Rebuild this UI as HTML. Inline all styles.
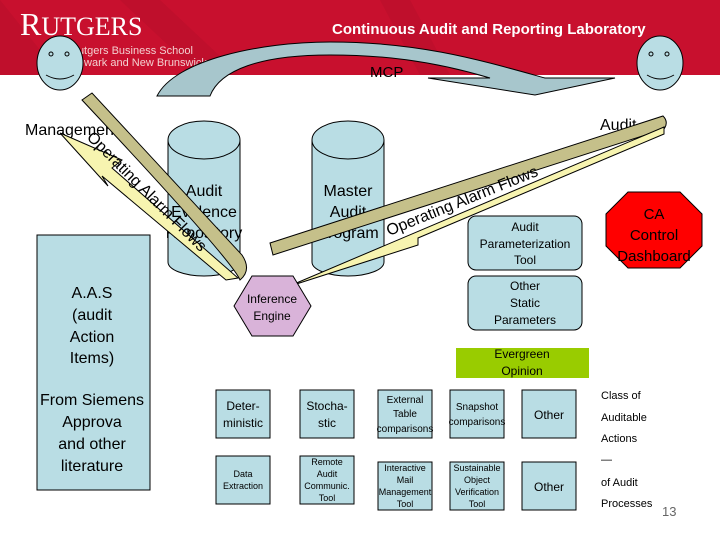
<!DOCTYPE html>
<html><head><meta charset="utf-8"><style>
body{margin:0;width:720px;height:540px;overflow:hidden;background:#fff;font-family:"Liberation Sans",sans-serif}
</style></head><body>
<svg width="720" height="540" viewBox="0 0 720 540" xmlns="http://www.w3.org/2000/svg" font-family="Liberation Sans, sans-serif">
<rect x="0" y="0" width="720" height="75" fill="#c8102e"/>
<path d="M0 0 L60 75 L0 75Z M120 0 L200 75 L240 75 L160 0Z M380 0 L420 75 L450 75 L410 0Z" fill="#b50d29" opacity="0.5"/>
<text x="20" y="35" font-family="Liberation Serif, serif" font-size="32" fill="#fff">R<tspan font-size="26">UTGERS</tspan></text>
<text x="70" y="54" font-size="11" fill="#f3d0d0">Rutgers Business School</text>
<text x="70" y="66" font-size="11" fill="#f3d0d0">Newark and New Brunswick</text>
<text x="332" y="34" font-size="15" font-weight="bold" fill="#fff">Continuous Audit and Reporting Laboratory</text>
<!-- MCP arrow -->
<path d="M157 96 C175 60 260 42 330 42 C420 42 480 60 545 78 L615 78 L535 95 L428 78 L490 78 C430 60 380 55 330 55 C260 55 220 70 210 96 Z" fill="#a7c6cc" stroke="#000" stroke-width="1"/>
<text x="370" y="77" font-size="15">MCP</text>
<!-- smileys -->
<g stroke="#000" fill="#b9dde4"><ellipse cx="60" cy="63" rx="23" ry="27"/><ellipse cx="660" cy="63" rx="23" ry="27"/></g>
<g stroke="#000" fill="none"><ellipse cx="51" cy="54" rx="2" ry="2"/><ellipse cx="67" cy="54" rx="2" ry="2"/><path d="M46 75 Q60 83 74 75"/><ellipse cx="651" cy="54" rx="2" ry="2"/><ellipse cx="667" cy="54" rx="2" ry="2"/><path d="M647 75 Q660 83 674 75"/></g>
<text x="25" y="135" font-size="16">Management</text>
<text x="600" y="130" font-size="16">Audit</text>
<!-- cylinders -->
<g stroke="#000" fill="#b9dde4">
<path d="M168 140 L168 262 A36 14 0 0 0 240 262 L240 140"/><ellipse cx="204" cy="140" rx="36" ry="19"/>
<path d="M312 140 L312 262 A36 14 0 0 0 384 262 L384 140"/><ellipse cx="348" cy="140" rx="36" ry="19"/>
</g>
<g font-size="16" text-anchor="middle"><text x="204" y="196">Audit</text><text x="204" y="217">Evidence</text><text x="204" y="238">Repository</text>
<text x="348" y="196">Master</text><text x="348" y="217">Audit</text><text x="348" y="238">Program</text></g>
<!-- left rect -->
<rect x="37" y="235" width="113" height="255" fill="#b9dde4" stroke="#000"/>
<g font-size="16" text-anchor="middle"><text x="92" y="298">A.A.S</text><text x="92" y="320">(audit</text><text x="92" y="342">Action</text><text x="92" y="363">Items)</text>
<text x="92" y="405">From Siemens</text><text x="92" y="427">Approva</text><text x="92" y="449">and other</text><text x="92" y="471">literature</text></g>
<!-- left arrows -->
<path d="M82 100 L92 93 L242 255 Q252 270 240 280 Q232 260 82 100Z" fill="#c5c08a" stroke="#000"/>
<path d="M60 133 L122 160 L112 168 L238 278 L226 280 L102 176 L108 186 Z" fill="#f7f4b0" stroke="#000"/>
<text transform="translate(86,138) rotate(45)" font-size="16">Operating Alarm Flows</text>
<!-- right arrows -->
<path d="M270 243 L663 116 Q669 122 664 129 L273 255 Z" fill="#c5c08a" stroke="#000"/>
<path d="M664 127 L287 287 L418 245 L418 238 L664 134 Z" fill="#f7f4b0" stroke="#000"/>
<text transform="translate(389,236) rotate(-22)" font-size="16">Operating Alarm Flows</text>
<!-- boxes right -->
<g stroke="#000" fill="#b9dde4"><rect x="468" y="216" width="114" height="54" rx="8"/><rect x="468" y="276" width="114" height="54" rx="8"/></g>
<g font-size="12" text-anchor="middle"><text x="525" y="231">Audit</text><text x="525" y="248">Parameterization</text><text x="525" y="264">Tool</text>
<text x="525" y="290">Other</text><text x="525" y="307">Static</text><text x="525" y="324">Parameters</text></g>
<rect x="456" y="348" width="133" height="30" fill="#99cc00"/>
<g font-size="12" text-anchor="middle"><text x="522" y="358">Evergreen</text><text x="522" y="375">Opinion</text></g>
<polygon points="628,192 680,192 702,214 702,246 680,268 628,268 606,246 606,214" fill="#ff0000" stroke="#000"/>
<g font-size="15" text-anchor="middle"><text x="654" y="219">CA</text><text x="654" y="240">Control</text><text x="654" y="261">Dashboard</text></g>
<polygon points="252,276 293,276 311,306 293,336 252,336 234,306" fill="#d9b3d9" stroke="#000"/>
<g font-size="12" text-anchor="middle"><text x="272" y="303">Inference</text><text x="272" y="320">Engine</text></g>
<!-- bottom grid -->
<g stroke="#000" fill="#b9dde4">
<rect x="216" y="390" width="54" height="48"/><rect x="300" y="390" width="54" height="48"/><rect x="378" y="390" width="54" height="48"/><rect x="450" y="390" width="54" height="48"/><rect x="522" y="390" width="54" height="48"/>
<rect x="216" y="456" width="54" height="48"/><rect x="300" y="456" width="54" height="48"/><rect x="378" y="462" width="54" height="48"/><rect x="450" y="462" width="54" height="48"/><rect x="522" y="462" width="54" height="48"/>
</g>
<g font-size="12" text-anchor="middle">
<text x="243" y="410">Deter-</text><text x="243" y="427">ministic</text>
<text x="327" y="410">Stocha-</text><text x="327" y="427">stic</text>
<text x="549" y="419">Other</text><text x="549" y="491">Other</text>
</g>
<g font-size="10" text-anchor="middle">
<text x="405" y="403">External</text><text x="405" y="417">Table</text><text x="405" y="432">comparisons</text>
<text x="477" y="410">Snapshot</text><text x="477" y="425">comparisons</text>
</g>
<g font-size="9" text-anchor="middle">
<text x="243" y="477">Data</text><text x="243" y="489">Extraction</text>
<text x="327" y="465">Remote</text><text x="327" y="477">Audit</text><text x="327" y="489">Communic.</text><text x="327" y="501">Tool</text>
<text x="405" y="471">Interactive</text><text x="405" y="483">Mail</text><text x="405" y="495">Management</text><text x="405" y="507">Tool</text>
<text x="477" y="471">Sustainable</text><text x="477" y="483">Object</text><text x="477" y="495">Verification</text><text x="477" y="507">Tool</text>
</g>
<g font-size="11"><text x="601" y="399">Class of</text><text x="601" y="421">Auditable</text><text x="601" y="442">Actions</text><text x="601" y="463">—</text><text x="601" y="486">of Audit</text><text x="601" y="507">Processes</text></g>
<text x="662" y="516" font-size="13" fill="#666">13</text>
</svg>
</body></html>
